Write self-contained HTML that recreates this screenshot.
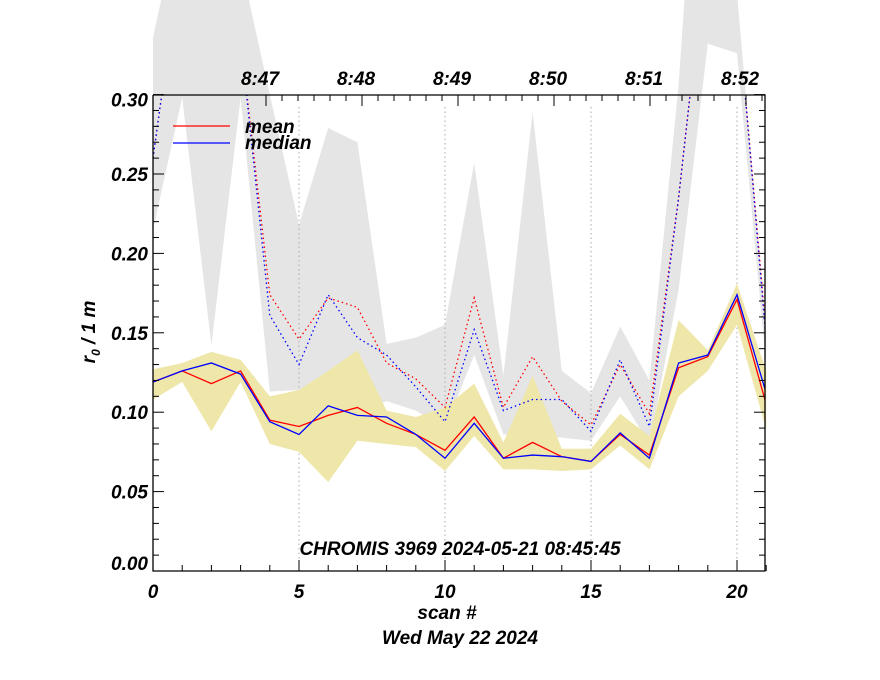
<!DOCTYPE html>
<html><head><meta charset="utf-8"><style>
body{margin:0;background:#fff}
svg{display:block;font-family:"Liberation Sans",sans-serif;font-weight:bold;font-style:italic}
</style></head><body>
<svg id="chart" width="880" height="680" viewBox="0 0 880 680" xmlns="http://www.w3.org/2000/svg">
<g id="bands"></g><g id="lines"></g><g id="axes"></g>
</svg>
<script>
const scans=[0,1,2,3,4,5,6,7,8,9,10,11,12,13,14,15,16,17,18,19,20,21];
const greyUpper=[0.336,0.42,0.42,0.383,0.300,0.218,0.279,0.270,0.143,0.147,0.155,0.257,0.123,0.289,0.126,0.112,0.154,0.120,0.306,0.574,0.364,0.151];
const greyLower=[0.215,0.298,0.142,0.298,0.113,0.114,0.100,0.100,0.107,0.101,0.090,0.136,0.086,0.085,0.084,0.082,0.110,0.080,0.177,0.332,0.326,0.130];
const dotMean=[0.260,0.393,0.42,0.335,0.174,0.146,0.172,0.166,0.131,0.121,0.103,0.172,0.103,0.135,0.107,0.092,0.130,0.099,0.235,0.40,0.36,0.150];
const dotMedian=[0.260,0.393,0.42,0.335,0.161,0.130,0.174,0.147,0.136,0.116,0.094,0.152,0.101,0.108,0.108,0.088,0.133,0.091,0.235,0.40,0.36,0.145];
const yelUpper=[0.127,0.131,0.138,0.133,0.110,0.114,0.126,0.139,0.101,0.097,0.103,0.118,0.081,0.123,0.077,0.077,0.099,0.085,0.158,0.139,0.181,0.126];
const yelLower=[0.108,0.119,0.088,0.119,0.080,0.075,0.056,0.082,0.080,0.078,0.063,0.085,0.064,0.064,0.063,0.064,0.079,0.064,0.110,0.126,0.155,0.089];
const mean=[0.119,0.126,0.118,0.126,0.095,0.091,0.098,0.103,0.093,0.086,0.076,0.097,0.071,0.081,0.072,0.069,0.086,0.073,0.128,0.135,0.171,0.105];
const median=[0.119,0.126,0.131,0.124,0.094,0.086,0.104,0.098,0.097,0.086,0.071,0.093,0.071,0.073,0.072,0.069,0.087,0.071,0.131,0.136,0.174,0.112];
const yTicks=[0.00,0.05,0.10,0.15,0.20,0.25,0.30];
const xTicks=[0,5,10,15,20];
const timeLabels=["8:47","8:48","8:49","8:50","8:51","8:52"];

const X0=153,X1=765,Y0=571,Y1=95;
const xs=v=>X0+v*(737-153)/20;
const ys=v=>Y0-v*1588;
const NS="http://www.w3.org/2000/svg";
function mk(tag,attrs,parent){const e=document.createElementNS(NS,tag);for(const k in attrs)e.setAttribute(k,attrs[k]);parent.appendChild(e);return e;}
const bands=document.getElementById('bands'),lines=document.getElementById('lines'),axes=document.getElementById('axes');
const svg=document.getElementById('chart');
const defs=mk('defs',{},svg);
const cp=mk('clipPath',{id:'plotclip'},defs);mk('rect',{x:X0,y:Y1,width:X1-X0,height:Y0-Y1},cp);

function bandPath(up,lo){let d='M'+scans.map((s,i)=>xs(s)+','+ys(up[i])).join('L');
 for(let i=scans.length-1;i>=0;i--)d+='L'+xs(scans[i])+','+ys(lo[i]);return d+'Z';}
const gb=mk('path',{d:bandPath(greyUpper,greyLower),fill:'#e5e5e5'},bands);


xTicks.forEach(t=>{if(t===0)return;const g=mk('line',{x1:xs(t),x2:xs(t),y1:Y1+12,y2:Y0,stroke:'#aaa','stroke-dasharray':'1.5,3','stroke-width':1},bands);

});
const yb=mk('path',{d:bandPath(yelUpper,yelLower),fill:'#efe6aa'},bands);



function line(vals,color,dash,name){const p=mk('polyline',{points:scans.map((s,i)=>xs(s)+','+ys(vals[i])).join(' '),fill:'none',stroke:color,'stroke-width':1.3,'clip-path':'url(#plotclip)'},lines);
 if(dash)p.setAttribute('stroke-dasharray',dash);
 
 }
line(dotMean,'#f00','1.5,3','dotted-mean-line');
line(dotMedian,'#00f','1.5,3','dotted-median-line');
line(mean,'#f00',null,'mean-line');
line(median,'#00f',null,'median-line');

const box=mk('path',{d:`M${X0},${Y1}V${Y0}H${X1}V${Y1}H${X0}`,fill:'none',stroke:'#000','stroke-width':1.3},axes);


for(let k=1;k<=30;k++){const v=k/100,y=ys(v),L=(k%5===0)?11:6;
 mk('line',{x1:X0,x2:X0+L,y1:y,y2:y,stroke:'#000'},axes);mk('line',{x1:X1,x2:X1-L,y1:y,y2:y,stroke:'#000'},axes);}
yTicks.forEach(v=>{let off=7;if(v===0)off=-1;if(v>=0.3)off=12;
 const t=mk('text',{x:148,y:ys(v)+off,'text-anchor':'end','font-size':19},axes);t.textContent=v.toFixed(2);
 
 });
for(let k=0;k<=21;k++){const x=xs(k),L=(k%5===0)?11:6;mk('line',{x1:x,x2:x,y1:Y0,y2:Y0-L,stroke:'#000'},axes);}
xTicks.forEach(v=>{const t=mk('text',{x:xs(v),y:598,'text-anchor':'middle','font-size':19},axes);t.textContent=v;
 
 });
for(let k=-6;k<=30;k++){const x=362+k*16;if(x<X0||x>X1)continue;const L=(k%6===0)?11:6;mk('line',{x1:x,x2:x,y1:Y1,y2:Y1+L,stroke:'#000'},axes);}
timeLabels.forEach((s,i)=>{const t=mk('text',{x:266+i*96-6,y:85,'text-anchor':'middle','font-size':19},axes);t.textContent=s;
 
 });
</script>
<svg style="position:absolute;left:0;top:0" width="880" height="680">
<g font-family="Liberation Sans, sans-serif" font-weight="bold" font-style="italic">
<line x1="173" x2="230" y1="126" y2="126" stroke="#f00" stroke-width="1.3"/>
<text x="245" y="133" font-size="19">mean</text>
<line x1="173" x2="230" y1="143" y2="143" stroke="#00f" stroke-width="1.3"/>
<text x="245" y="149" font-size="19">median</text>
<text x="460" y="555" font-size="19" text-anchor="middle">CHROMIS 3969 2024-05-21 08:45:45</text>
<text x="447" y="619" font-size="19" text-anchor="middle">scan #</text>
<text x="460" y="644" font-size="19" text-anchor="middle">Wed May 22 2024</text>
<text transform="translate(95,332) rotate(-90)" font-size="19" text-anchor="middle">r<tspan font-size="12" dy="5">0</tspan><tspan dy="-5"> / 1 m</tspan></text>
</g></svg>
</body></html>
